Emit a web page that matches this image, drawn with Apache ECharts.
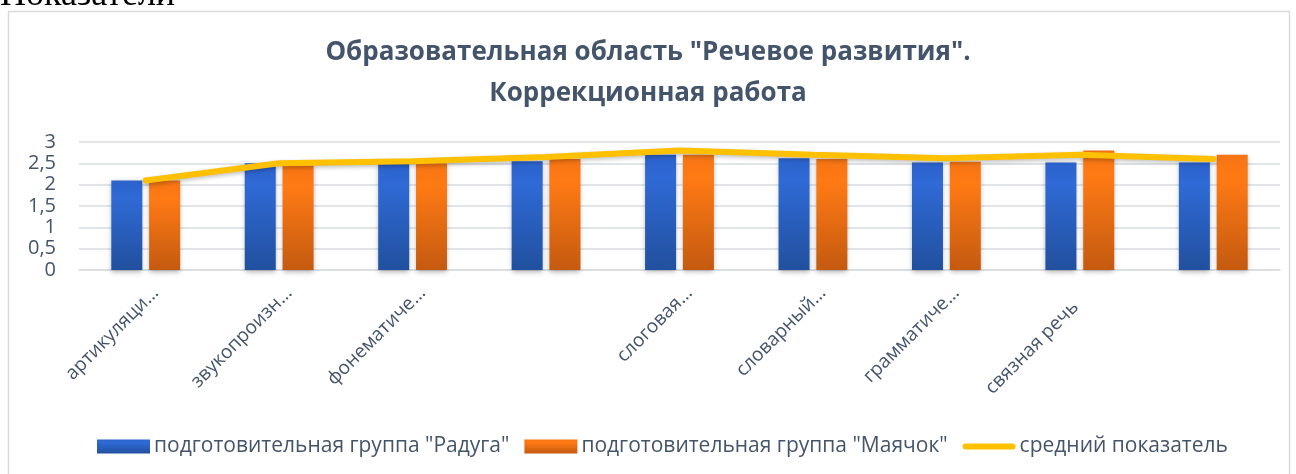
<!DOCTYPE html>
<html>
<head>
<meta charset="utf-8">
<script src="https://cdn.jsdelivr.net/npm/echarts@6/dist/echarts.min.js"></script>
<style>
  html, body { margin: 0; padding: 0; background: #fff; }
  #chart { width: 1296px; height: 474px; }
</style>
</head>
<body>
<div id="chart"></div>
<script>
const categories = ['артикуляци…', 'звукопроизн…', 'фонематиче…', '', 'слоговая…', 'словарный…', 'грамматиче…', 'связная речь', ''];
const raduga = [2.1, 2.5, 2.5, 2.55, 2.7, 2.62, 2.52, 2.52, 2.52];
const mayachok = [2.1, 2.45, 2.5, 2.6, 2.7, 2.6, 2.54, 2.8, 2.7];
const average = [2.1, 2.5, 2.55, 2.65, 2.8, 2.7, 2.62, 2.7, 2.6];
const seriesNames = ['подготовительная группа "Радуга"', 'подготовительная группа "Маячок"', 'средний показатель'];

const textColor = '#44546A';
const fontName = '"Open Sans", "Noto Sans", sans-serif';

const chart = echarts.init(document.getElementById('chart'));

function grad(top, mid, bottom) {
    return new echarts.graphic.LinearGradient(0, 0, 0, 1, [
        { offset: 0, color: top },
        { offset: 0.2, color: mid },
        { offset: 1, color: bottom }
    ]);
}

// truncated labels sit a bit further up-right than the full one
const categoryItems = categories.map(c => ({
    value: c,
    textStyle: { padding: c.endsWith('…') || c === '' ? [0, -14, 0, 0] : [0, 6, 0, 0] }
}));

chart.setOption({
    animation: false,
    backgroundColor: '#fff',
    graphic: [
        {
            type: 'rect', z: -10, silent: true,
            shape: { x: 8.5, y: 11.5, width: 1281, height: 470 },
            style: { fill: '#fff', stroke: '#d9d9d9', lineWidth: 1.5 }
        },
        {
            type: 'text', x: 0, y: 14, silent: true,
            style: { text: 'Показатели', font: '36px "Liberation Serif", serif', fill: '#000', verticalAlign: 'bottom' }
        }
    ],
    title: {
        text: 'Образовательная область "Речевое развития".\nКоррекционная работа',
        left: 'center',
        top: 27,
        textStyle: {
            fontFamily: fontName,
            fontSize: 26,
            fontWeight: 'bold',
            color: textColor,
            lineHeight: 41
        }
    },
    legend: {
        top: 431,
        left: 92,
        itemWidth: 53,
        itemHeight: 14,
        itemGap: 15,
        textStyle: { fontFamily: fontName, fontSize: 21, color: textColor, padding: [0, 0, 0, -1] },
        data: [
            { name: seriesNames[0], icon: 'rect' },
            { name: seriesNames[1], icon: 'rect' },
            { name: seriesNames[2], icon: 'path://M0,0M53,14M3,4L50,4A3,3,0,0,1,50,10L3,10A3,3,0,0,1,3,4Z' }
        ]
    },
    grid: { left: 79, right: 16, top: 142, bottom: 204 },
    xAxis: {
        type: 'category',
        data: categoryItems,
        axisLine: { lineStyle: { color: '#d9dce1', width: 1.5 } },
        axisTick: { show: false },
        axisLabel: {
            interval: 0,
            rotate: 45,
            margin: 30,
            padding: [0, -14, 0, 0],
            fontFamily: fontName,
            fontSize: 19,
            color: textColor
        }
    },
    yAxis: {
        type: 'value',
        min: 0,
        max: 3,
        interval: 0.5,
        axisLine: { show: false },
        axisTick: { show: false },
        splitLine: { lineStyle: { color: '#d9dce1', width: 1.5 } },
        axisLabel: {
            margin: 23,
            fontFamily: fontName,
            fontSize: 20,
            color: textColor,
            formatter: v => String(v).replace('.', ',')
        }
    },
    series: [
        {
            name: seriesNames[0],
            type: 'bar',
            data: raduga,
            barWidth: 31,
            barGap: '22%',
            itemStyle: {
                color: grad('#2c62cc', '#2f6ad6', '#21509e'),
                shadowBlur: 5,
                shadowColor: 'rgba(0,0,0,0.3)',
                shadowOffsetY: 2
            }
        },
        {
            name: seriesNames[1],
            type: 'bar',
            data: mayachok,
            barWidth: 31,
            itemStyle: {
                color: grad('#f57414', '#ff7a14', '#c45a10'),
                shadowBlur: 5,
                shadowColor: 'rgba(0,0,0,0.3)',
                shadowOffsetY: 2
            }
        },
        {
            name: seriesNames[2],
            type: 'line',
            data: average,
            symbol: 'none',
            z: 5,
            lineStyle: {
                color: '#FFC000',
                width: 6,
                cap: 'round',
                shadowBlur: 4,
                shadowColor: 'rgba(0,0,0,0.25)',
                shadowOffsetY: 2
            },
            itemStyle: { color: '#FFC000' }
        }
    ]
});
</script>
</body>
</html>
